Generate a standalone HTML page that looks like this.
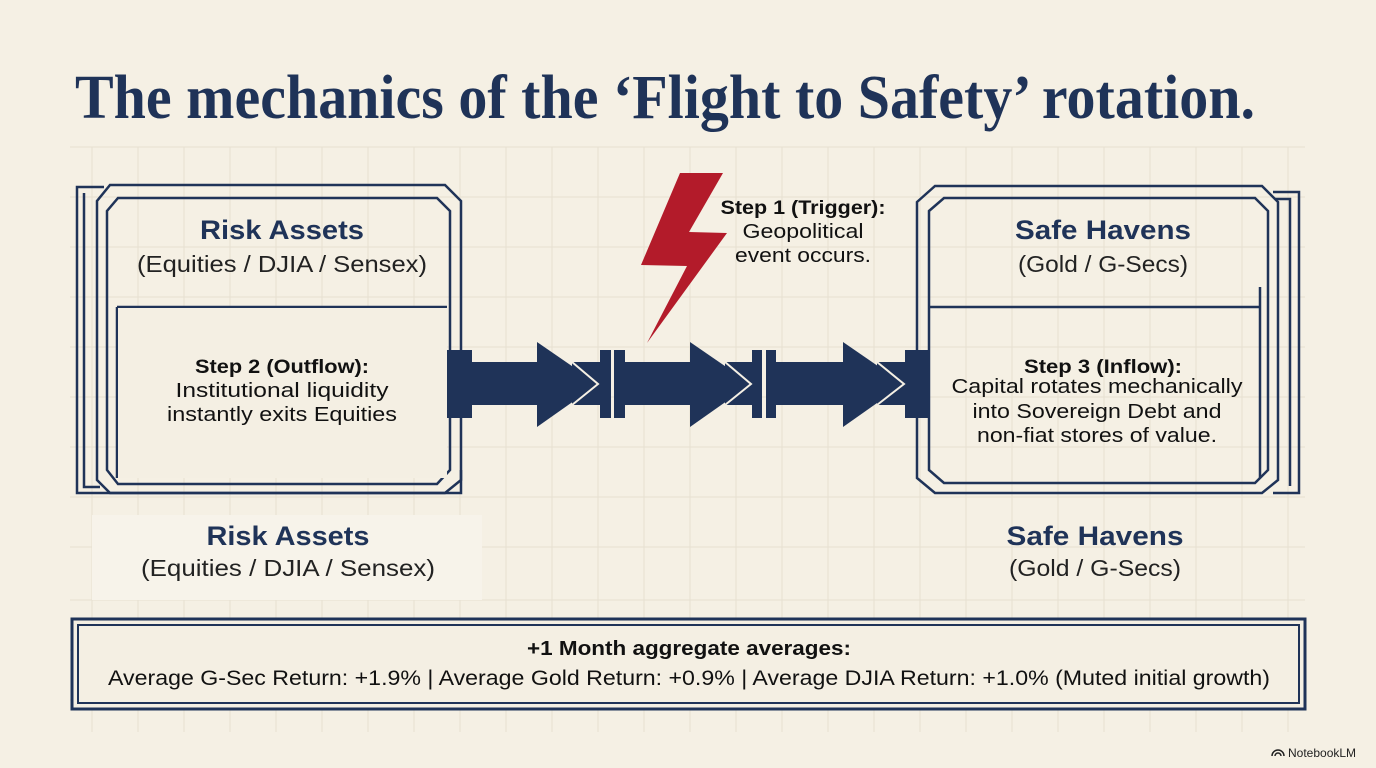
<!DOCTYPE html>
<html><head><meta charset="utf-8"><style>
html,body{margin:0;padding:0;background:#f5f0e4;}
svg{display:block;}
.s{font-family:"Liberation Sans",sans-serif;}
</style></head><body>
<svg width="1376" height="768" viewBox="0 0 1376 768" xmlns="http://www.w3.org/2000/svg">
<rect width="1376" height="768" fill="#f5f0e4"/>
<g stroke="#e6e0d1" stroke-width="1">
<line x1="70" y1="147" x2="1305" y2="147"/><line x1="70" y1="197" x2="1305" y2="197"/><line x1="70" y1="247" x2="1305" y2="247"/><line x1="70" y1="297" x2="1305" y2="297"/><line x1="70" y1="347" x2="1305" y2="347"/><line x1="70" y1="397" x2="1305" y2="397"/><line x1="70" y1="447" x2="1305" y2="447"/><line x1="70" y1="497" x2="1305" y2="497"/><line x1="70" y1="547" x2="1305" y2="547"/><line x1="70" y1="600" x2="1305" y2="600"/><line x1="70" y1="650" x2="1305" y2="650"/><line x1="70" y1="700" x2="1305" y2="700"/>
</g>
<g stroke="#e6e0d1" stroke-width="1" id="v"></g>
<script>
var g=document.getElementById('v');for(var x=92;x<=1305;x+=46){var l=document.createElementNS('http://www.w3.org/2000/svg','line');l.setAttribute('x1',x);l.setAttribute('x2',x);l.setAttribute('y1',147);l.setAttribute('y2',732);g.appendChild(l);}
</script>
<text x="75" y="118" font-family="Liberation Serif,serif" font-weight="bold" font-size="62" fill="#1f3358" textLength="1180" lengthAdjust="spacingAndGlyphs">The mechanics of the ‘Flight to Safety’ rotation.</text>

<!-- left box -->
<g fill="none" stroke="#1f3358" stroke-width="2.5">
<polyline points="104,187 77,187 77,493 461,493 461,470"/>
<polyline points="84,193 84,487 100,487"/>
<path d="M110,185 L445,185 L461,201 L461,480 L445,493 L110,493 L97,480 L97,201 Z"/>
<path d="M118,198 L437,198 L450,211 L450,470 L437,484 L118,484 L107,470 L107,211 Z"/>
<line x1="117" y1="307" x2="447" y2="307"/>
<line x1="117" y1="307" x2="117" y2="478"/>
</g>
<rect x="118" y="308" width="329" height="170" fill="#f4efe3"/>
<text class="s" x="282" y="239" text-anchor="middle" font-weight="bold" font-size="27" fill="#1f3358" textLength="164" lengthAdjust="spacingAndGlyphs">Risk Assets</text>
<text class="s" x="282" y="272" text-anchor="middle" font-size="23" fill="#222" textLength="290" lengthAdjust="spacingAndGlyphs">(Equities / DJIA / Sensex)</text>
<text class="s" x="282" y="373" text-anchor="middle" font-weight="bold" font-size="19" fill="#111" textLength="174" lengthAdjust="spacingAndGlyphs">Step 2 (Outflow):</text>
<text class="s" x="282" y="397" text-anchor="middle" font-size="20" fill="#111" textLength="213" lengthAdjust="spacingAndGlyphs">Institutional liquidity</text>
<text class="s" x="282" y="421" text-anchor="middle" font-size="20" fill="#111" textLength="230" lengthAdjust="spacingAndGlyphs">instantly exits Equities</text>

<!-- right box -->
<g fill="none" stroke="#1f3358" stroke-width="2.5">
<polyline points="1273,192 1299,192 1299,493 1273,493"/>
<polyline points="1275,199 1290,199 1290,486"/>
<path d="M935,186 L1262,186 L1278,202 L1278,480 L1262,493 L935,493 L917,478 L917,202 Z"/>
<path d="M944,198 L1255,198 L1268,211 L1268,470 L1255,483 L944,483 L929,470 L929,211 Z"/>
<line x1="928" y1="307" x2="1260" y2="307"/>
<line x1="1260" y1="287" x2="1260" y2="478"/>
</g>
<text class="s" x="1103" y="239" text-anchor="middle" font-weight="bold" font-size="27" fill="#1f3358" textLength="176" lengthAdjust="spacingAndGlyphs">Safe Havens</text>
<text class="s" x="1103" y="272" text-anchor="middle" font-size="23" fill="#222" textLength="170" lengthAdjust="spacingAndGlyphs">(Gold / G-Secs)</text>
<text class="s" x="1103" y="373" text-anchor="middle" font-weight="bold" font-size="19" fill="#111" textLength="158" lengthAdjust="spacingAndGlyphs">Step 3 (Inflow):</text>
<text class="s" x="1097" y="393" text-anchor="middle" font-size="20" fill="#111" textLength="291" lengthAdjust="spacingAndGlyphs">Capital rotates mechanically</text>
<text class="s" x="1097" y="418" text-anchor="middle" font-size="20" fill="#111" textLength="249" lengthAdjust="spacingAndGlyphs">into Sovereign Debt and</text>
<text class="s" x="1097" y="442" text-anchor="middle" font-size="20" fill="#111" textLength="240" lengthAdjust="spacingAndGlyphs">non-fiat stores of value.</text>

<!-- arrows -->
<g fill="#1f3358">
<rect x="447" y="350" width="25" height="68"/>
<rect x="470" y="362" width="70" height="43"/>
<polygon points="537,342 598,384 537,427"/>
<rect x="572" y="362" width="28" height="43"/>
<rect x="600" y="350" width="11" height="68"/>
<rect x="614" y="350" width="11" height="68"/>
<rect x="624" y="362" width="68" height="43"/>
<polygon points="690,342 751,384 690,427"/>
<rect x="725" y="362" width="27" height="43"/>
<rect x="752" y="350" width="10" height="68"/>
<rect x="766" y="350" width="10" height="68"/>
<rect x="776" y="362" width="69" height="43"/>
<polygon points="843,342 904,384 843,427"/>
<rect x="877" y="362" width="30" height="43"/>
<rect x="905" y="350" width="24" height="68"/>
</g>
<g fill="none" stroke="#f5f0e4" stroke-width="2">
<polyline points="572,362 598,384 572,405"/>
<polyline points="725,362 751,384 725,405"/>
<polyline points="877,362 904,384 877,405"/>
</g>

<polygon points="680,173 723,173 689,232 727,233 647,343 687,266 641,265" fill="#b31b2a"/>
<text class="s" x="803" y="214" text-anchor="middle" font-weight="bold" font-size="19" fill="#111" textLength="165" lengthAdjust="spacingAndGlyphs">Step 1 (Trigger):</text>
<text class="s" x="803" y="238" text-anchor="middle" font-size="20" fill="#111" textLength="121" lengthAdjust="spacingAndGlyphs">Geopolitical</text>
<text class="s" x="803" y="262" text-anchor="middle" font-size="20" fill="#111" textLength="136" lengthAdjust="spacingAndGlyphs">event occurs.</text>

<rect x="92" y="515" width="390" height="85" fill="#f7f3ea"/>
<text class="s" x="288" y="545" text-anchor="middle" font-weight="bold" font-size="27" fill="#1f3358" textLength="163" lengthAdjust="spacingAndGlyphs">Risk Assets</text>
<text class="s" x="288" y="576" text-anchor="middle" font-size="23" fill="#222" textLength="294" lengthAdjust="spacingAndGlyphs">(Equities / DJIA / Sensex)</text>
<text class="s" x="1095" y="545" text-anchor="middle" font-weight="bold" font-size="27" fill="#1f3358" textLength="177" lengthAdjust="spacingAndGlyphs">Safe Havens</text>
<text class="s" x="1095" y="576" text-anchor="middle" font-size="23" fill="#222" textLength="172" lengthAdjust="spacingAndGlyphs">(Gold / G-Secs)</text>

<rect x="72" y="619" width="1233" height="90" fill="#f4efe3" stroke="#1f3358" stroke-width="3"/>
<rect x="78" y="625" width="1221" height="78" fill="none" stroke="#1f3358" stroke-width="2"/>
<text class="s" x="689" y="655" text-anchor="middle" font-weight="bold" font-size="20" fill="#111" textLength="324" lengthAdjust="spacingAndGlyphs">+1 Month aggregate averages:</text>
<text class="s" x="689" y="685" text-anchor="middle" font-size="21" fill="#111" textLength="1162" lengthAdjust="spacingAndGlyphs">Average G-Sec Return: +1.9%  |  Average Gold Return: +0.9%  |  Average DJIA Return: +1.0% (Muted initial growth)</text>

<text class="s" x="1288" y="757" font-size="12" fill="#222">NotebookLM</text>
<path d="M1272,756 a6,6 0 0 1 12,0 M1275,756 a3,3 0 0 1 6,0" fill="none" stroke="#222" stroke-width="1.5"/>
</svg>
</body></html>
